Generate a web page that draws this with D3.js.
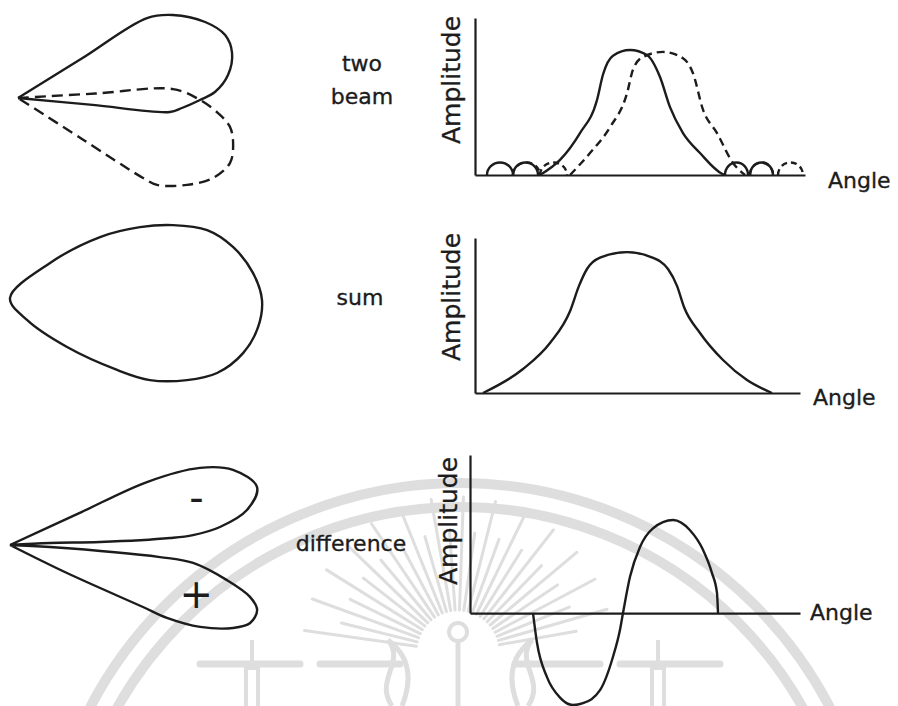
<!DOCTYPE html>
<html>
<head>
<meta charset="utf-8">
<script src="https://cdn.jsdelivr.net/npm/d3@7"></script>
<style>
  html, body { margin: 0; padding: 0; background: #ffffff; }
  svg { display: block; }
  text { font-family: "DejaVu Sans", Verdana, sans-serif; fill: #1c1c1c; stroke: #1c1c1c; stroke-width: 0.35px; }
</style>
</head>
<body>
<svg id="fig" width="898" height="706"></svg>
<script>
// ---------------- data ----------------
const axisTitleX = "Angle";
const axisTitleY = "Amplitude";
const rowLabels = [["two", "beam"], ["sum"], ["difference"]];
const lobeSigns = ["-", "+"];

// Polar beam patterns: [angle from boresight in degrees (positive = downward), gain]
const beamAPattern = [[-31.8, 0], [-31.8, 30], [-31.8, 60.7], [-28.2, 70.3], [-22.1, 80.8], [-16.9, 86.6],
  [-11.9, 87.5], [-6.25, 84.5], [-1.74, 78.8], [0.63, 72.8], [3.49, 65.7], [5.26, 61.0], [5.3, 30], [5.3, 0]];
const beamBPattern = [[-3.3, 0], [-3.3, 31], [-3.3, 62.1], [0.6, 72.8], [4.8, 81.1], [7.8, 85.6], [11.8, 87.9],
  [17.0, 88.7], [22.3, 84.3], [27.2, 76.0], [32.0, 65.6], [32.6, 59.4], [32.6, 30], [32.6, 0]];
const sumPattern = [[0, 0], [-41.2, 21.3], [-34.1, 43.5], [-28.6, 59.2], [-24.1, 71.4], [-19.0, 83.4], [-12.9, 91.5],
  [-5.9, 97.7], [0.5, 100.8], [6.7, 99.9], [13.3, 95.8], [19.9, 88.1], [24.9, 78.0], [30.4, 64.9],
  [33.9, 51.6], [40.7, 30.1], [52.3, 11.1]];
const diffUpperPattern = [[-24.7, 0], [-24.7, 30], [-24.7, 60.3], [-22.1, 82], [-18.6, 94.1], [-13.2, 101.5],
  [-8.4, 95.8], [-4.9, 84.3], [-3.1, 73.3], [-2.5, 64.1], [-1.9, 36], [-2.9, 16], [-3, 0]];
const diffLowerPattern = [[3, 0], [2.9, 16], [4.6, 60.2], [5.6, 73.6], [9.2, 87.9], [12.2, 98.2], [14.7, 102.2],
  [18.0, 101.0], [20.4, 95.2], [23.3, 82.8], [24.9, 69.2], [25.0, 58.7], [26.2, 25.4], [26, 0]];
const signPositions = [[-14.4, 77], [14.5, 77]];

// Amplitude versus angle
const beamAMain = [[13, 0], [17, 0.12], [21, 0.334], [24.4, 0.597], [25.6, 0.8], [27.6, 0.95], [31, 0.995],
  [34.4, 0.955], [37, 0.78], [39, 0.54], [41.6, 0.334], [45, 0.175], [49.4, 0.01], [50, 0]];
const beamBMain = [[19, 0], [23, 0.175], [27, 0.38], [30.4, 0.65], [31.6, 0.84], [33.6, 0.94], [37.6, 0.98],
  [41.6, 0.93], [43.6, 0.81], [45.6, 0.52], [48.4, 0.334], [51.6, 0.096], [54, 0]];
const beamASidelobes = [[2.4, 7.6], [7.6, 12.6], [50, 54.6], [55, 59.6]];
const beamBSidelobes = [[7.6, 13], [13, 18.4], [55, 59.6], [60.6, 65.6]];
const sidelobeLevel = 0.1;
const sumCurve = [[1.6, 0], [9.6, 0.17], [15, 0.355], [19, 0.58], [20.8, 0.76], [22.4, 0.88], [25, 0.96],
  [30.4, 1.0], [35.2, 0.965], [38.6, 0.88], [40.4, 0.76], [41.8, 0.61], [45, 0.426], [49.6, 0.234],
  [54.4, 0.092], [59.4, 0]];
const diffCurve = [[12.6, 0], [13.4, -0.32], [15.4, -0.69], [18, -0.91], [20.6, -0.99], [22.6, -0.97],
  [26, -0.83], [28.6, -0.47], [30, -0.18], [30.6, 0], [32, 0.39], [34, 0.71], [36.6, 0.91], [40.6, 1.0],
  [44, 0.89], [46.6, 0.68], [48.4, 0.43], [49.4, 0.215], [49.6, 0]];

// ---------------- drawing ----------------
const svg = d3.select("#fig");
const ink = "#1c1c1c";

// faint seal in the background
const sealInk = "#dedede";
const seal = svg.append("g").attr("fill", "none").attr("stroke", sealInk);
[417, 393].forEach(rad => {
  seal.append("circle").attr("cx", 460).attr("cy", 900).attr("r", rad).attr("stroke-width", 10);
});
const sun = seal.append("g").attr("transform", "translate(458,652)");
d3.range(-172, -7, 6).forEach((a, i) => {
  const t = a * Math.PI / 180, r0 = 42, r1 = i % 2 ? 120 : 155;
  sun.append("line")
    .attr("x1", r0 * Math.cos(t)).attr("y1", r0 * Math.sin(t))
    .attr("x2", r1 * Math.cos(t)).attr("y2", r1 * Math.sin(t))
    .attr("stroke-width", 3).attr("stroke-linecap", "round");
});
sun.append("circle").attr("cx", 0).attr("cy", -20).attr("r", 9).attr("stroke-width", 4);
sun.append("line").attr("x1", 0).attr("x2", 0).attr("y1", -11).attr("y2", 60).attr("stroke-width", 5);
[[200, 300], [320, 400], [515, 600], [620, 720]].forEach(([a, b]) => {
  seal.append("line").attr("x1", a).attr("x2", b).attr("y1", 664).attr("y2", 664)
    .attr("stroke-width", 7).attr("stroke-linecap", "round");
});
// flames and candles
[[392, 1], [528, -1]].forEach(([cx, s]) => {
  seal.append("path").attr("stroke-width", 5)
    .attr("d", `M${cx},706 C${cx - 18 * s},680 ${cx + 14 * s},662 ${cx - 4 * s},640 C${cx + 16 * s},655 ${cx + 22 * s},676 ${cx + 10 * s},706`);
});
[252, 658].forEach(cx => {
  seal.append("path").attr("stroke-width", 4)
    .attr("d", `M${cx - 6},706 V668 H${cx + 6} V706 M${cx},668 V640`);
});

// polar patterns
const gain = d3.scaleLinear().domain([0, 100]).range([0, 250]);
const toAngle = d => Math.PI / 2 + d * Math.PI / 180;
const lobe = d3.lineRadial().angle(d => toAngle(d[0])).radius(d => gain(d[1])).curve(d3.curveCatmullRom.alpha(0.5));
const lobeClosed = d3.lineRadial().angle(d => toAngle(d[0])).radius(d => gain(d[1])).curve(d3.curveCatmullRomClosed.alpha(0.5));

function polar(apex) {
  return svg.append("g").attr("transform", `translate(${apex[0]},${apex[1]})`)
    .attr("fill", "none").attr("stroke", ink).attr("stroke-width", 2.4).attr("stroke-linejoin", "round");
}
const p1 = polar([18, 98]);
p1.append("path").attr("d", lobe(beamAPattern));
p1.append("path").attr("d", lobe(beamBPattern)).attr("stroke-dasharray", "11,6");
const p2 = polar([10, 298]);
p2.append("path").attr("d", lobeClosed(sumPattern));
const p3 = polar([10, 545]);
p3.append("path").attr("d", lobe(diffUpperPattern));
p3.append("path").attr("d", lobe(diffLowerPattern));
p3.selectAll("text.sign").data(signPositions).join("text")
  .attr("class", "sign")
  .attr("x", d => gain(d[1]) * Math.cos(d[0] * Math.PI / 180))
  .attr("y", d => gain(d[1]) * Math.sin(d[0] * Math.PI / 180))
  .attr("dy", "0.36em").attr("text-anchor", "middle")
  .style("stroke-width", "0px").style("font-size", "40px")
  .text((d, i) => lobeSigns[i]);

// row labels
const labelSpecs = [{ x: 362, y: [71, 104] }, { x: 360, y: [305] }, { x: 351, y: [551] }];
labelSpecs.forEach((s, i) => {
  rowLabels[i].forEach((t, j) => {
    svg.append("text").attr("x", s.x).attr("y", s.y[j]).attr("text-anchor", "middle")
      .style("font-size", "22px").text(t);
  });
});

// amplitude plots
const plots = [
  { x: d3.scaleLinear().domain([0, 66]).range([475, 805]), y: d3.scaleLinear().domain([0, 1.25]).range([175, 18]),
    top: 1.25, titleY: 80, titleYx: 460, titleX: [828, 188] },
  { x: d3.scaleLinear().domain([0, 65]).range([475, 800]), y: d3.scaleLinear().domain([0, 1.1]).range([393, 238]),
    top: 1.1, titleY: 297, titleYx: 460, titleX: [813, 405] },
  { x: d3.scaleLinear().domain([0, 66]).range([470, 800]), y: d3.scaleLinear().domain([-1.0, 1.7]).range([706, 455]),
    top: 1.7, titleY: 521, titleYx: 457, titleX: [810, 620] }
];

plots.forEach(p => {
  const g = svg.append("g");
  const xAxis = d3.axisBottom(p.x).tickValues([]).tickSizeOuter(0);
  g.append("g").attr("transform", `translate(0,${p.y(0)})`).call(xAxis);
  const yAxis = d3.axisLeft(p.y.copy().domain([0, p.top]).range([p.y(0), p.y(p.top)])).tickValues([]).tickSizeOuter(0);
  g.append("g").attr("transform", `translate(${p.x.range()[0]},0)`).call(yAxis);
  g.selectAll(".domain").attr("stroke", ink).attr("stroke-width", 2.2);
  svg.append("text").attr("x", p.titleX[0]).attr("y", p.titleX[1]).style("font-size", "22px").text(axisTitleX);
  svg.append("text").attr("transform", `translate(${p.titleYx},${p.titleY}) rotate(-90)`)
    .attr("text-anchor", "middle").style("font-size", "25px").text(axisTitleY);
});

const curve = (p) => d3.line().x(d => p.x(d[0])).y(d => p.y(d[1])).curve(d3.curveMonotoneX);
function sidelobes(g, p, list, dash) {
  g.selectAll(null).data(list).join("path")
    .attr("d", d => {
      const x0 = p.x(d[0]), x1 = p.x(d[1]), y0 = p.y(0);
      const rx = (x1 - x0) / 2, ry = y0 - p.y(sidelobeLevel);
      return `M${x0},${y0}A${rx},${ry} 0 0 1 ${x1},${y0}`;
    })
    .attr("stroke-dasharray", dash);
}
const line = () => svg.append("g").attr("fill", "none").attr("stroke", ink).attr("stroke-width", 2.4);

const c1 = line();
c1.append("path").attr("d", curve(plots[0])(beamAMain));
c1.append("path").attr("d", curve(plots[0])(beamBMain)).attr("stroke-dasharray", "8,5");
sidelobes(c1, plots[0], beamASidelobes, null);
sidelobes(c1, plots[0], beamBSidelobes, "6,4");

const c2 = line();
c2.append("path").attr("d", curve(plots[1])(sumCurve));

const c3 = line();
c3.append("path").attr("d", curve(plots[2])(diffCurve));
</script>
</body>
</html>
